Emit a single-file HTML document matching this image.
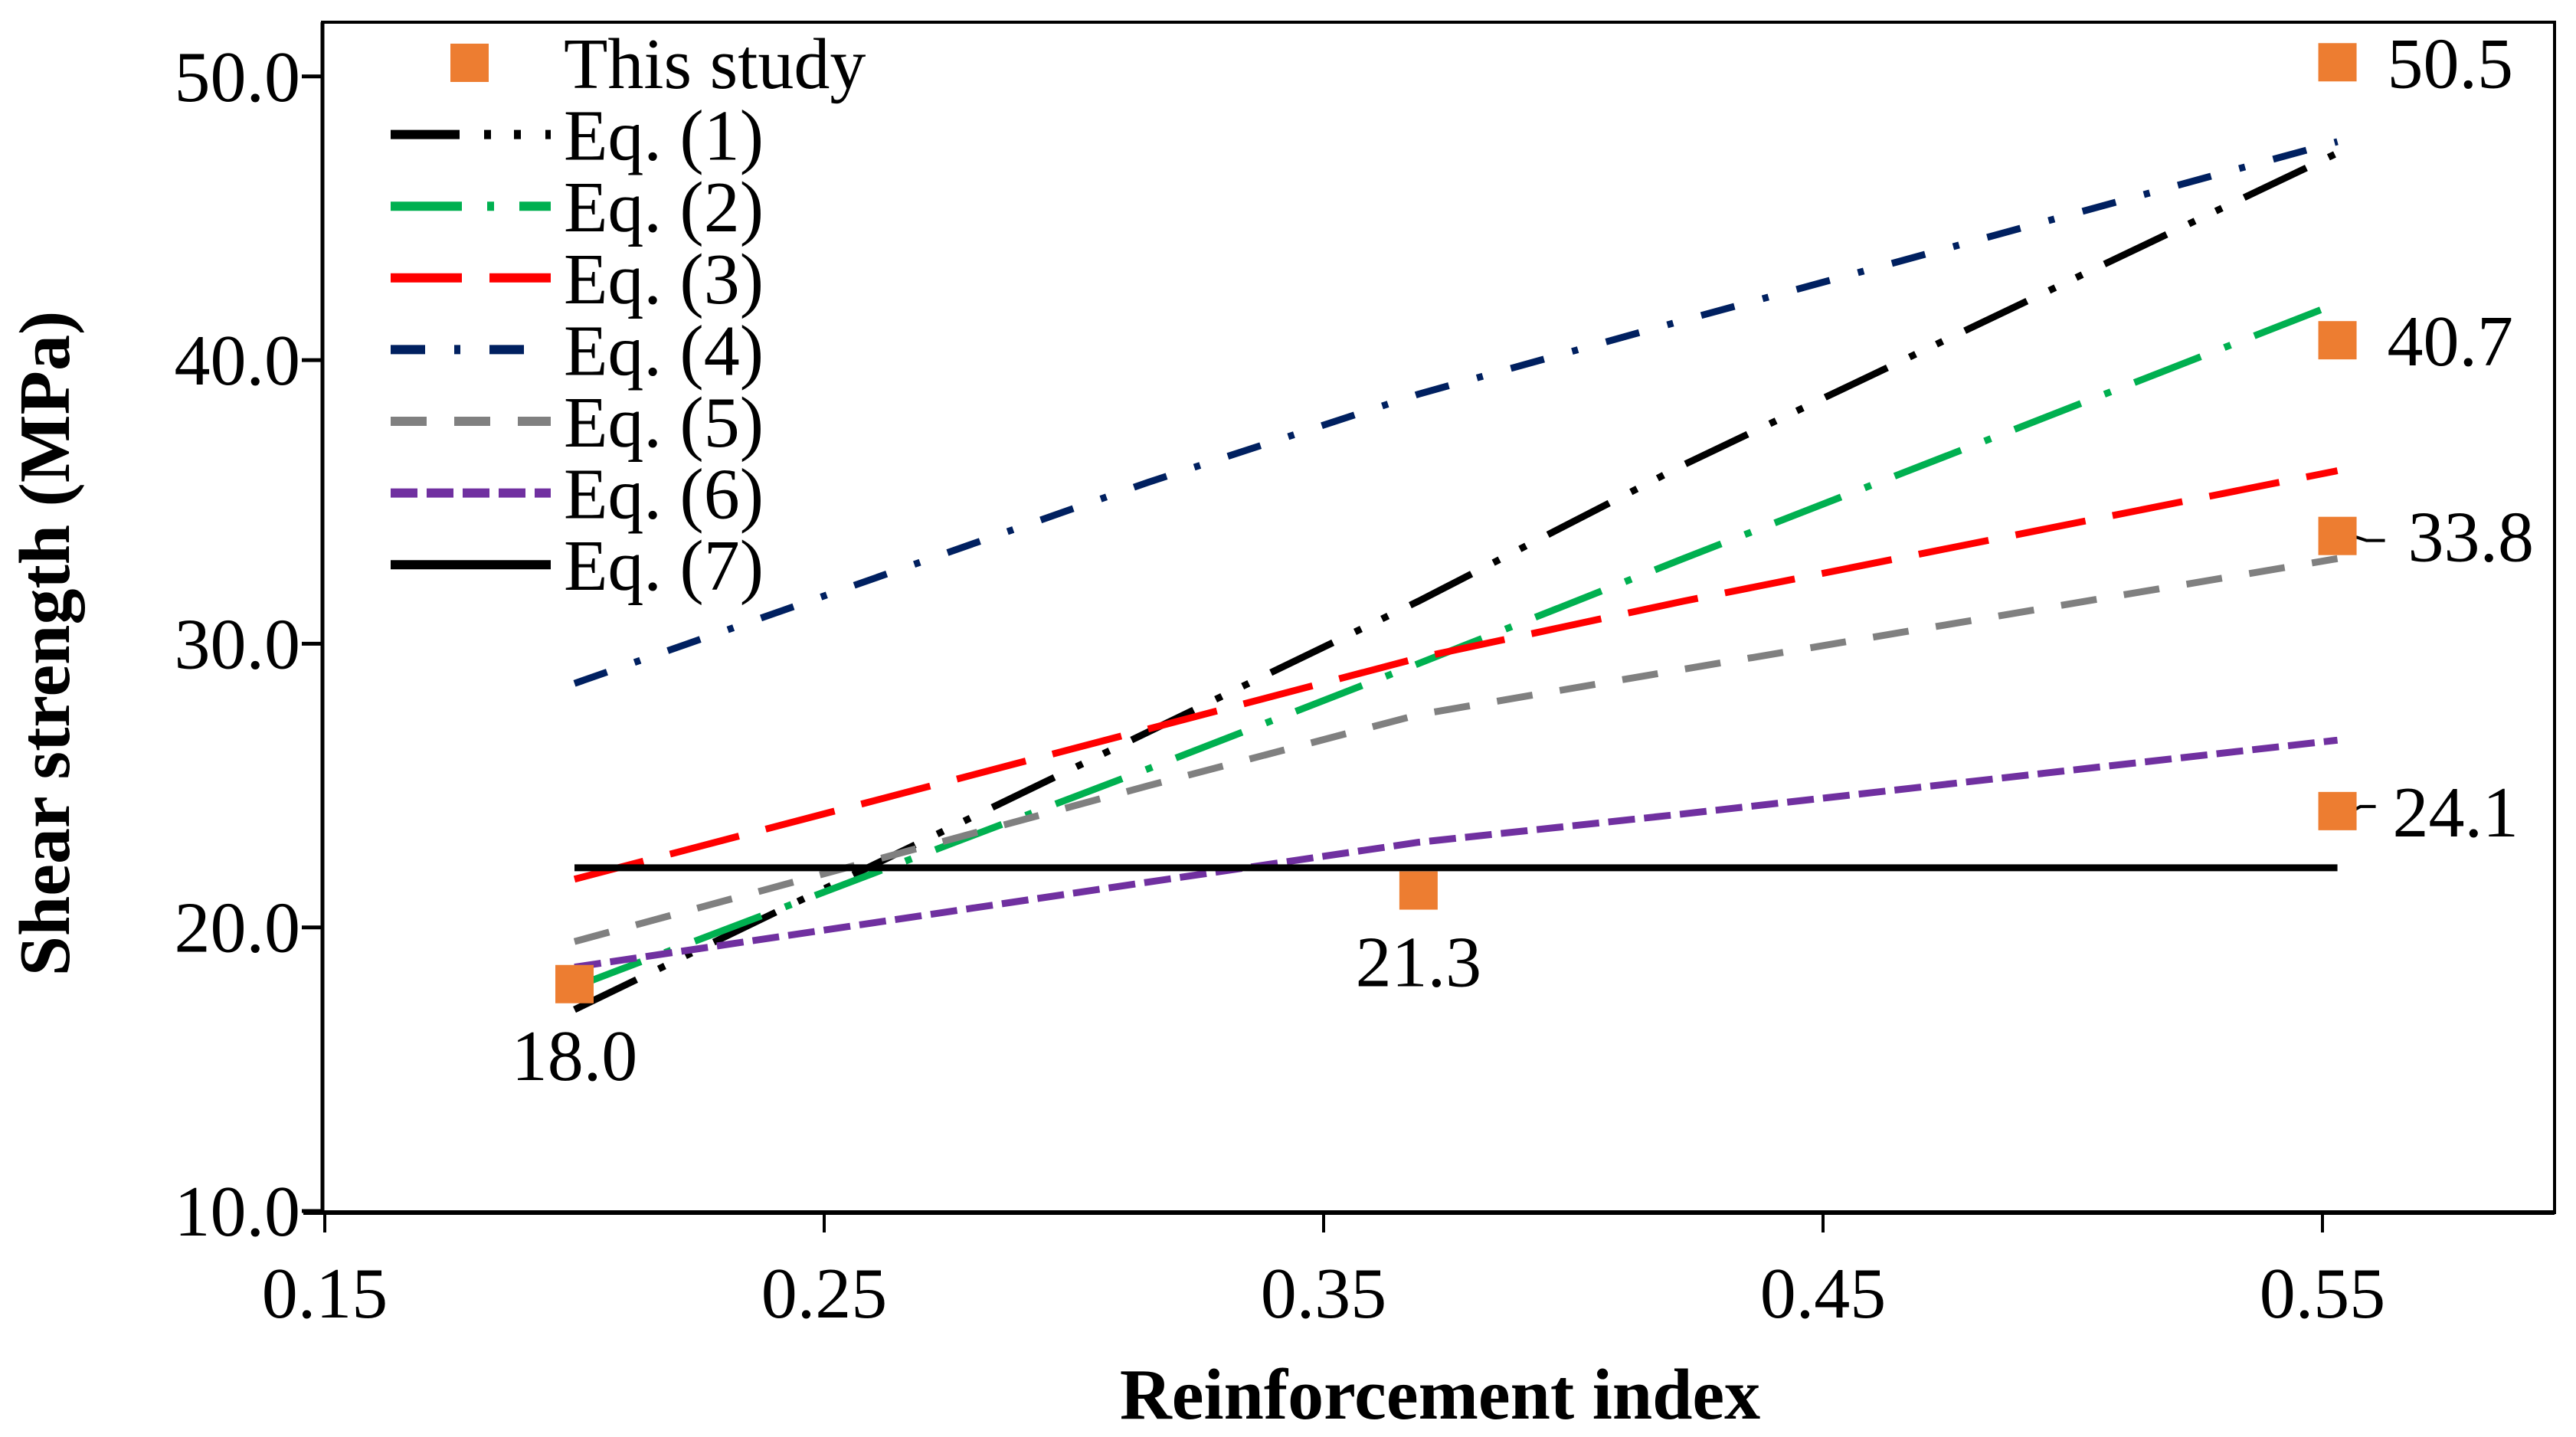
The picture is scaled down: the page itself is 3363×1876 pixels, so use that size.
<!DOCTYPE html>
<html><head><meta charset="utf-8">
<style>
html,body{margin:0;padding:0;background:#fff;}
svg{display:block;font-family:"Liberation Serif",serif;}
</style></head>
<body>
<svg id="chart" width="3363" height="1876" viewBox="0 0 3363 1876" xmlns="http://www.w3.org/2000/svg">
</svg>
<script>
const xTicks = [0.15, 0.25, 0.35, 0.45, 0.55];
const yTicks = [10, 20, 30, 40, 50];
const studyX = [0.2, 0.369, 0.553, 0.553, 0.553, 0.553];
const studyY = [18.0, 21.3, 50.5, 40.7, 33.8, 24.1];
const studyLabels = ["18.0", "21.3", "50.5", "40.7", "33.8", "24.1"];
const eqNames = ["Eq. (1)", "Eq. (2)", "Eq. (3)", "Eq. (4)", "Eq. (5)", "Eq. (6)", "Eq. (7)"];
const eqX = [0.2, 0.315, 0.369, 0.422, 0.553];
const eq1 = [17.1, 26.9, 31.5, 36.3, 47.3];
const eq2 = [17.9, 25.6, 29.3, 33.0, 42.0];
const eq3 = [21.7, 27.0, 29.5, 31.5, 36.1];
const eq4 = [28.6, 35.7, 38.8, 41.4, 47.7];
const eq5 = [19.5, 25.0, 27.5, 29.1, 33.0];
const eq6 = [18.6, 21.6, 23.0, 24.0, 26.6];
const eq7 = [22.1, 22.1, 22.1, 22.1, 22.1];

const series = [eq1, eq2, eq3, eq4, eq5, eq6, eq7];
const colors = ["#000000", "#00B050", "#FF0000", "#002060", "#808080", "#7030A0", "#000000"];
const dashes = ["90 32 9 30 9 32", "93 33 9 33", "93 36", "45 38 8 38", "47 36", "35 12", "none"];

const NS = "http://www.w3.org/2000/svg";
const svg = document.getElementById("chart");
const L = 421, T = 29, R = 3335, B = 1583;
const FS = 94;
function xs(v){ return 424 + (v - 0.15) * 6520; }
function ys(v){ return 1581 - (v - 10) * 37.03; }
function mk(tag, attrs, parent){
  const e = document.createElementNS(NS, tag);
  for (const k in attrs) e.setAttribute(k, attrs[k]);
  (parent || svg).appendChild(e);
  return e;
}
function txt(s, attrs){ const e = mk("text", attrs); e.textContent = s; return e; }

let e;
e = mk("rect", {x:L, y:T, width:R-L, height:B-T, fill:"none", stroke:"#000", "stroke-width":4});


e = mk("line", {x1:L-25, y1:B, x2:R, y2:B, stroke:"#000", "stroke-width":6});


e = mk("line", {x1:L, y1:T, x2:L, y2:B+2, stroke:"#000", "stroke-width":5});



yTicks.forEach(v => {
  const y = ys(v);
  let t = mk("line", {x1:L-27, y1:y, x2:L, y2:y, stroke:"#000", "stroke-width":5});
  
  
  let l = txt(v.toFixed(1), {x:392, y:y+32, "font-size":FS, "text-anchor":"end"});
  
  
});
xTicks.forEach(v => {
  const x = xs(v);
  let t = mk("line", {x1:x, y1:B, x2:x, y2:B+26, stroke:"#000", "stroke-width":4});
  
  
  let l = txt(v.toFixed(2), {x:x, y:1720, "font-size":FS, "text-anchor":"middle"});
  
  
});

e = txt("Reinforcement index", {x:1880, y:1852, "font-size":FS, "font-weight":"bold", "text-anchor":"middle"});


e = txt("Shear strength (MPa)", {x:0, y:0, "font-size":FS, "font-weight":"bold", "text-anchor":"middle", transform:"translate(90,840) rotate(-90)"});



series.forEach((s, i) => {
  const pts = s.map((v, j) => xs(eqX[j]) + "," + ys(v)).join(" ");
  const p = mk("polyline", {points:pts, fill:"none", stroke:colors[i], "stroke-width":9, "stroke-linejoin":"round"});
  if (dashes[i] !== "none") p.setAttribute("stroke-dasharray", dashes[i]);
  
  
});

e = mk("polyline", {points:`${xs(0.553)+20},${ys(33.8)} ${xs(0.553)+38},${ys(33.8)+6} ${xs(0.553)+62},${ys(33.8)+6}`, fill:"none", stroke:"#000", "stroke-width":4});


e = mk("polyline", {points:`${xs(0.553)+16},${ys(24.1)+2} ${xs(0.553)+30},${ys(24.1)-6} ${xs(0.553)+50},${ys(24.1)-6}`, fill:"none", stroke:"#000", "stroke-width":4});



const labelOff = [[0, 125, "middle"], [0, 125, "middle"], [65, 33, "start"], [65, 33, "start"], [92, 33, "start"], [72, 33, "start"]];
studyX.forEach((xv, i) => {
  const x = xs(xv), y = ys(studyY[i]);
  const r = mk("rect", {x:x-25, y:y-25, width:50, height:50, fill:"#ED7D31"});
  
  
  const o = labelOff[i];
  const l = txt(studyLabels[i], {x:x+o[0], y:y+o[1], "font-size":FS, "text-anchor":o[2]});
  
  
});

const lg = mk("g", {});


const rowY0 = 82, rowH = 93.6;
e = mk("rect", {x:588, y:rowY0-25, width:50, height:50, fill:"#ED7D31"}, lg);


e = mk("text", {x:736, y:rowY0+33, "font-size":FS}, lg);
e.textContent = "This study";


eqNames.forEach((n, i) => {
  const y = rowY0 + rowH * (i + 1);
  const s = mk("line", {x1:510, y1:y, x2:719, y2:y, stroke:colors[i], "stroke-width":12}, lg);
  if (dashes[i] !== "none") s.setAttribute("stroke-dasharray", dashes[i]);
  
  
  const t = mk("text", {x:736, y:y+33, "font-size":FS}, lg);
  t.textContent = n;
  
  
});
</script>
</body></html>
